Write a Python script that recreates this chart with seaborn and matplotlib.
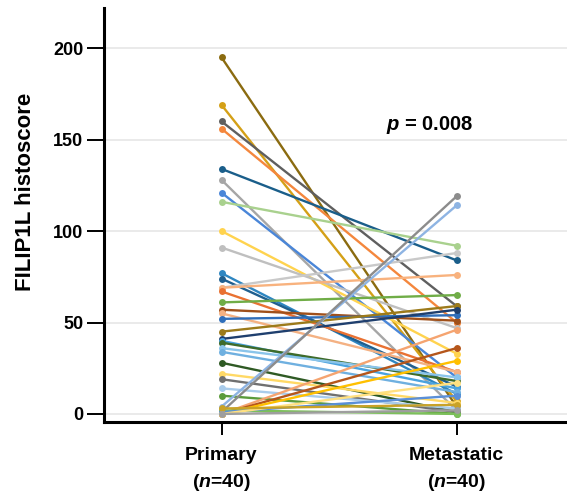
import numpy as np
import pandas as pd
import matplotlib
matplotlib.use("Agg")
import matplotlib.pyplot as plt
import seaborn as sns

groups = ["Primary", "Metastatic"]
tick_labels = ["Primary\n($n$=40)", "Metastatic\n($n$=40)"]
primary = [195, 169, 160, 156, 134, 128, 121, 116, 100, 91, 77, 74, 69, 69, 67, 61, 57, 55, 52, 45,
           41, 40, 39, 36, 34, 28, 22, 19, 14, 10, 4, 1, 0, 0, 0, 2, 1, 0, 3, 0]
metastatic = [4, 7, 59, 50, 84, 2, 20, 92, 33, 47, 11, 15, 88, 76, 23, 65, 51, 23, 54, 59,
              57, 14, 18, 20, 12, 1, 6, 1, 3, 0, 114, 119, 46, 36, 29, 0, 10, 17, 5, 2]
colors = ["#8B6B10", "#D4A017", "#5F5F5F", "#F4873D", "#1A5E8A", "#A6A6A6", "#4A86D8", "#A9D18E",
          "#FFD34E", "#BFBFBF", "#2E86C1", "#1F5F8F", "#C9C9C9", "#F8B27E", "#E97132", "#70AD47",
          "#A0501A", "#F4B183", "#2F6EBA", "#9C7A1A", "#1F3F6E", "#4AA3DF", "#3E6B2A", "#8AC4EA",
          "#6FB0E0", "#2F5A24", "#FFD966", "#707070", "#A9CCEB", "#5B9B3B", "#8EB4E3", "#8C8C8C",
          "#F5A470", "#B5561B", "#FFC000", "#7CC05A", "#5A8FD8", "#FFE080", "#C9A227", "#9E9E9E"]
p_text = "$p$ = 0.008"

n = len(primary)
df = pd.DataFrame({
    "pair": np.concatenate([np.arange(n), np.arange(n)]),
    "pos": [0] * n + [1] * n,
    "value": primary + metastatic,
})
pal = {i: colors[i] for i in range(n)}

sns.set_style("white")
plt.rcParams["font.family"] = ["Liberation Sans", "DejaVu Sans"]
plt.rcParams["mathtext.fontset"] = "custom"
plt.rcParams["mathtext.it"] = "Liberation Sans:italic:bold"
plt.rcParams["mathtext.rm"] = "Liberation Sans:bold"
plt.rcParams["text.color"] = "black"
plt.rcParams["axes.labelcolor"] = "black"
plt.rcParams["xtick.color"] = "black"
plt.rcParams["ytick.color"] = "black"

fig = plt.figure(figsize=(5.67, 4.98), dpi=100)
ax = fig.add_axes([0.1834, 0.1526, 0.8166, 0.8314])

for y in [0, 50, 100, 150, 200]:
    ax.axhline(y, color="#e8e8e8", lw=1.3, zorder=0)

sns.lineplot(data=df, x="pos", y="value", hue="pair", palette=pal, units="pair",
             estimator=None, marker="o", markersize=5, markeredgewidth=0,
             linewidth=1.7, legend=False, ax=ax, zorder=2)

ax.set_xlim(-0.5, 1.47)
ax.set_ylim(-4.4, 222)
ax.set_xticks([0, 1])
ax.set_xticklabels(tick_labels, fontsize=14, fontweight="bold", linespacing=1.55)
ax.set_yticks([0, 50, 100, 150, 200])
ax.set_yticklabels(["0", "50", "100", "150", "200"], fontsize=13, fontweight="bold")
ax.set_xlabel("")
ax.set_ylabel("FILIP1L histoscore", fontsize=16, fontweight="bold")
ax.yaxis.set_label_coords(-0.147, 0.556)
for s in ["top", "right"]:
    ax.spines[s].set_visible(False)
for s in ["left", "bottom"]:
    ax.spines[s].set_linewidth(2.2)
    ax.spines[s].set_color("black")
ax.tick_params(axis="y", length=12, width=1.4, color="black", pad=3, left=True)
ax.tick_params(axis="x", length=9, width=1.4, color="black", pad=9, bottom=True)

ax.text(0.885, 158, p_text, fontsize=14.5, fontweight="bold", ha="center", va="center")

fig.savefig("out.png", dpi=100)
